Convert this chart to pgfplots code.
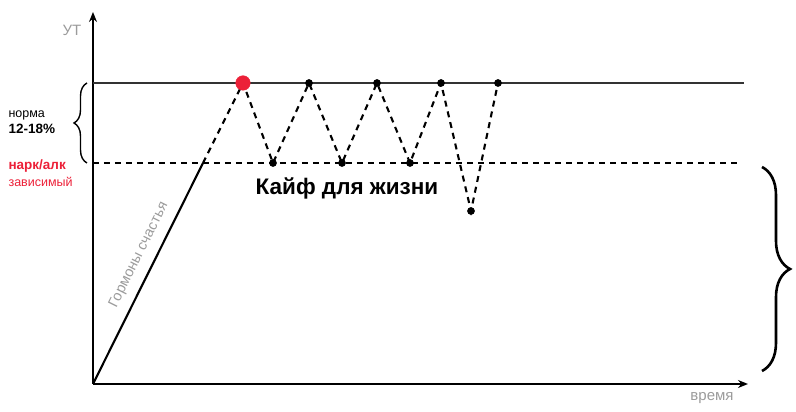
\documentclass[border=0pt]{standalone}
\usepackage{fontspec}
\setmainfont{Liberation Sans}
\usepackage{pgfplots}
\pgfplotsset{compat=1.18}
\usetikzlibrary{decorations.pathreplacing,arrows.meta}
\definecolor{myred}{RGB}{236,32,56}
\definecolor{mygray}{RGB}{155,155,155}
\begin{document}
\begin{tikzpicture}
\begin{axis}[x=1pt,y=1pt, xmin=0,xmax=655,ymin=0,ymax=372,
  axis lines=left,
  axis line style={line width=2.1pt,-{Stealth[length=10pt,width=8pt]}},
  ticks=none, clip=false]
\path[use as bounding box] (axis cs:-93,-28) rectangle (axis cs:703,384);
\addplot[line width=2.2pt, black!80] coordinates {(0,301) (651,301)};
\addplot[line width=2.1pt, dash pattern=on 6pt off 5pt] coordinates {(0,221) (647,221)};
\addplot[line width=2.1pt] coordinates {(0,0) (110,221)};
\addplot[line width=2.1pt, dash pattern=on 6pt off 5pt] coordinates {(110,221)(150,301)(180,221)(216,301)(249,221)(284,301)(317,221)(348,301)(378,173)(405,301)};
\addplot[only marks, mark=*, mark size=3.6pt, black] coordinates {(180,221)(216,301)(249,221)(284,301)(317,221)(348,301)(378,173)(405,301)};
\addplot[only marks, mark=*, mark size=7.3pt, myred, mark options={draw=myred,fill=myred}] coordinates {(150,301)};
% braces
\draw[line width=1.4pt, decorate, decoration={brace, amplitude=13pt}] (axis cs:-6,221) -- (axis cs:-6,301);
\draw[line width=2.6pt, decorate, decoration={brace, amplitude=28pt}] (axis cs:669,217) -- (axis cs:669,13);
% texts
\node[font=\fontsize{15}{18}\selectfont, text=mygray] at (axis cs:-21,354) {УТ};
\node[font=\fontsize{15}{18}\selectfont, text=mygray] at (axis cs:619,-14) {время};
\node[anchor=west, font=\fontsize{12.5}{15}\selectfont] at (axis cs:-88,269) {норма};
\node[anchor=west, font=\fontsize{13.5}{16}\selectfont\bfseries] at (axis cs:-88,255) {12-18\%};
\node[anchor=west, font=\fontsize{13.5}{16}\selectfont\bfseries, text=myred] at (axis cs:-88,218) {нарк/алк};
\node[anchor=west, font=\fontsize{12.5}{15}\selectfont, text=myred] at (axis cs:-88,202) {зависимый};
\node[font=\fontsize{22.5}{26}\selectfont\bfseries] at (axis cs:254,196) {Кайф для жизни};
\node[font=\fontsize{14.5}{17}\selectfont, text=mygray, rotate=63.5] at (axis cs:46,129) {Гормоны счастья};
\end{axis}
\end{tikzpicture}
\end{document}
